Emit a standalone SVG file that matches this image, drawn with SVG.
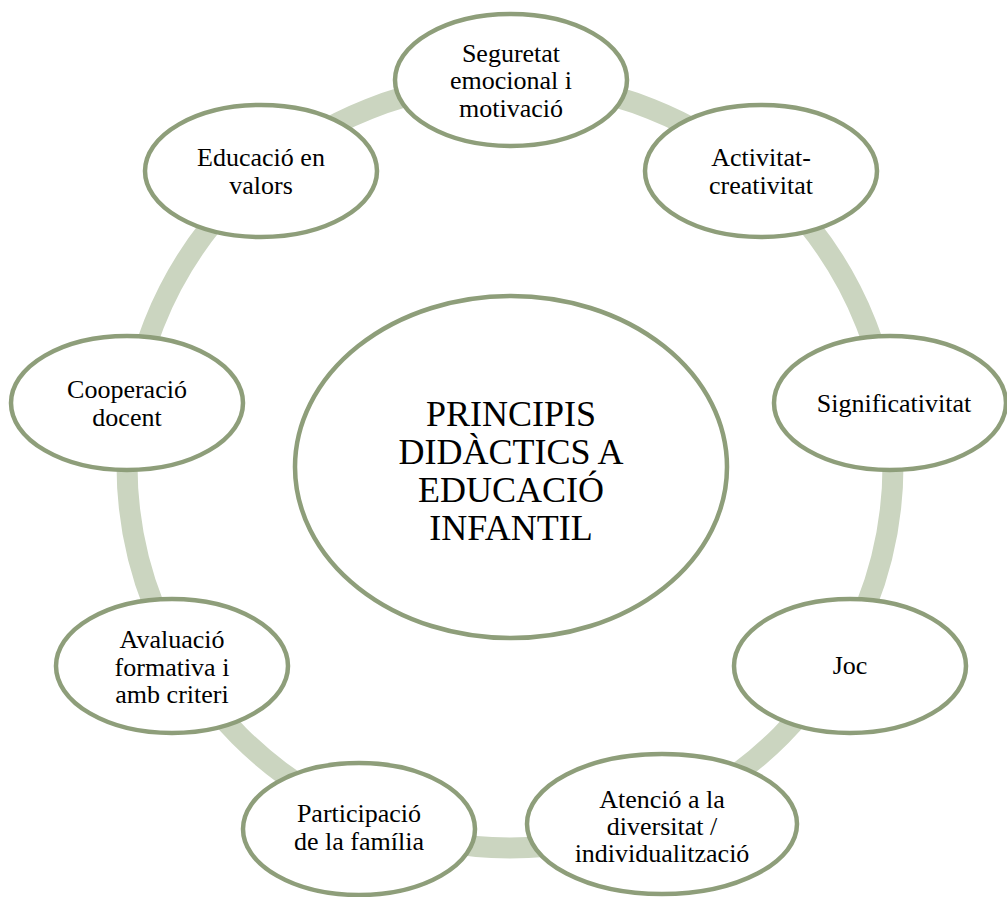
<svg xmlns="http://www.w3.org/2000/svg" width="1007" height="897" viewBox="0 0 1007 897">
<style>
.ring{fill:none;stroke:#cbd5c0;stroke-width:21}
.node{fill:#ffffff;stroke:#8e9e7a;stroke-width:4.5}
.t{font-family:"Liberation Serif","Times New Roman",serif;font-size:26px;fill:#000000;text-anchor:middle}
.c{font-family:"Liberation Serif","Times New Roman",serif;font-size:36px;fill:#000000;text-anchor:middle}
</style>
<rect width="1007" height="897" fill="#ffffff"/>
<g id="connectors">
<circle class="ring" cx="510" cy="465" r="383"/>
</g>
<g id="center">
<ellipse class="node" cx="511" cy="467" rx="216" ry="171"/>
<text class="c" x="511" y="426">PRINCIPIS</text>
<text class="c" x="511" y="464">DIDÀCTICS A</text>
<text class="c" x="511" y="502">EDUCACIÓ</text>
<text class="c" x="511" y="540">INFANTIL</text>
</g>
<g id="seguretat">
<ellipse class="node" cx="511" cy="80" rx="116" ry="66"/>
<text class="t" x="511" y="62">Seguretat</text>
<text class="t" x="511" y="89">emocional i</text>
<text class="t" x="511" y="117">motivació</text>
</g>
<g id="activitat">
<ellipse class="node" cx="761" cy="171" rx="116" ry="66"/>
<text class="t" x="761" y="166">Activitat-</text>
<text class="t" x="761" y="194">creativitat</text>
</g>
<g id="significativitat">
<ellipse class="node" cx="890" cy="403" rx="116" ry="67"/>
<text class="t" x="894" y="412">Significativitat</text>
</g>
<g id="joc">
<ellipse class="node" cx="850" cy="666" rx="116" ry="67"/>
<text class="t" x="850" y="674">Joc</text>
</g>
<g id="atencio">
<ellipse class="node" cx="662" cy="824" rx="135" ry="70"/>
<text class="t" x="662" y="808">Atenció a la</text>
<text class="t" x="662" y="835">diversitat /</text>
<text class="t" x="662" y="862">individualització</text>
</g>
<g id="participacio">
<ellipse class="node" cx="359" cy="829" rx="116" ry="66"/>
<text class="t" x="359" y="822">Participació</text>
<text class="t" x="359" y="850">de la família</text>
</g>
<g id="avaluacio">
<ellipse class="node" cx="172" cy="666" rx="116" ry="67"/>
<text class="t" x="172" y="648">Avaluació</text>
<text class="t" x="172" y="676">formativa i</text>
<text class="t" x="172" y="703">amb criteri</text>
</g>
<g id="cooperacio">
<ellipse class="node" cx="127" cy="403" rx="116" ry="67"/>
<text class="t" x="127" y="398">Cooperació</text>
<text class="t" x="127" y="426">docent</text>
</g>
<g id="educacio">
<ellipse class="node" cx="261" cy="171" rx="116" ry="66"/>
<text class="t" x="261" y="166">Educació en</text>
<text class="t" x="261" y="194">valors</text>
</g>
</svg>
